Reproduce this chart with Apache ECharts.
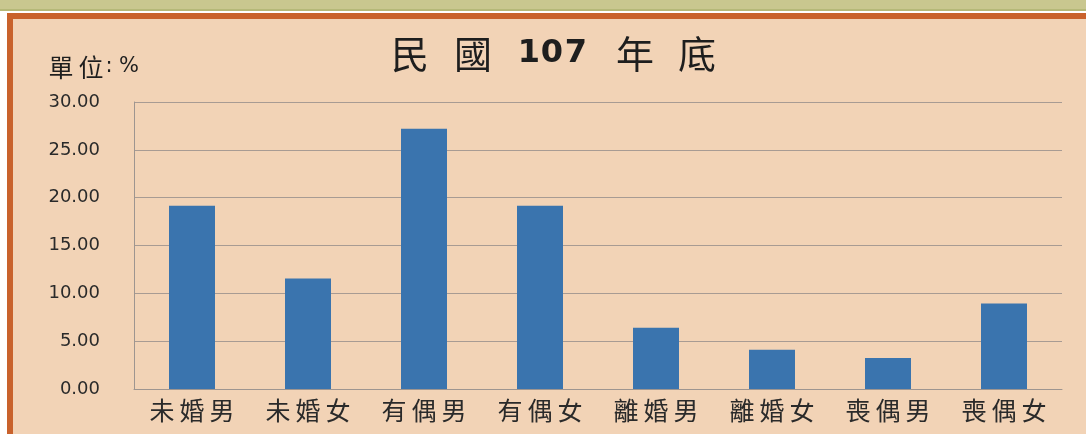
<!DOCTYPE html>
<html>
<head>
<meta charset="utf-8">
<script src="https://cdn.jsdelivr.net/npm/echarts@6/dist/echarts.min.js"></script>
<style>html,body{margin:0;padding:0;background:#fff}#c{width:1086px;height:434px}</style>
</head>
<body>
<div id="c"></div>
<script>
var categories = ['未婚男','未婚女','有偶男','有偶女','離婚男','離婚女','喪偶男','喪偶女'];
var values = [19.15, 11.55, 27.2, 19.15, 6.4, 4.1, 3.25, 8.95];
var yTicks = {min: 0, max: 30, interval: 5};
var titleParts = ['民', '國', '1', '0', '7', '年', '底'];
var unitParts = ['單', '位', ':', '%'];

var cjk = '"Noto Sans CJK TC", sans-serif';
function t(x, y, s, font) {
  return {type: 'text', x: x, y: y, style: {text: s, font: font, fill: '#1e1e1e', align: 'center', verticalAlign: 'middle'}};
}
var titleX = [410, 473, 529, 552, 576, 635, 697];
var graphics = [
  {type: 'rect', z: -10, shape: {x: 0, y: 0, width: 1086, height: 11}, style: {fill: '#c9c78f'}},
  {type: 'rect', z: -10, shape: {x: 0, y: 9, width: 1086, height: 2}, style: {fill: '#b5b878'}},
  {type: 'rect', z: -9, shape: {x: 10, y: 16, width: 1100, height: 425}, style: {fill: '#f2d3b6', stroke: '#c9622c', lineWidth: 6}}
];
titleParts.forEach(function (s, i) {
  var isDigit = /[0-9]/.test(s);
  graphics.push(t(titleX[i], 54, s, isDigit ? 'bold 32px "DejaVu Sans", sans-serif' : '38px ' + cjk));
});
var unitX = [61, 91, 109, 129];
unitParts.forEach(function (s, i) {
  var isCjk = /[^\x00-\x7f]/.test(s);
  graphics.push(t(unitX[i], 67, s, isCjk ? '25px ' + cjk : '21px "DejaVu Sans", sans-serif'));
});

var chart = echarts.init(document.getElementById('c'), null, {renderer: 'canvas'});
chart.setOption({
  backgroundColor: '#ffffff',
  animation: false,
  graphic: graphics,
  grid: {left: 134, right: 24, top: 102, bottom: 45, containLabel: false},
  xAxis: {
    type: 'category',
    data: categories,
    axisLine: {show: true, lineStyle: {color: '#9e9590', width: 1}},
    axisTick: {show: false},
    axisLabel: {color: '#2a2a2a', fontSize: 25, margin: 9, fontFamily: cjk,
      formatter: function (v) { return v.split('').join('\u2009'); }}
  },
  yAxis: {
    type: 'value',
    min: yTicks.min, max: yTicks.max, interval: yTicks.interval,
    axisLine: {show: true, lineStyle: {color: '#9e9590', width: 1}},
    axisTick: {show: false},
    axisLabel: {color: '#2a2a2a', fontSize: 18, margin: 34, fontFamily: '"DejaVu Sans", sans-serif',
      formatter: function (v) { return v.toFixed(2); }},
    splitLine: {show: true, lineStyle: {color: '#a89b93', width: 1}}
  },
  series: [{
    type: 'bar',
    data: values,
    barWidth: 46,
    itemStyle: {color: '#3a74ae'}
  }]
});
</script>
</body>
</html>
